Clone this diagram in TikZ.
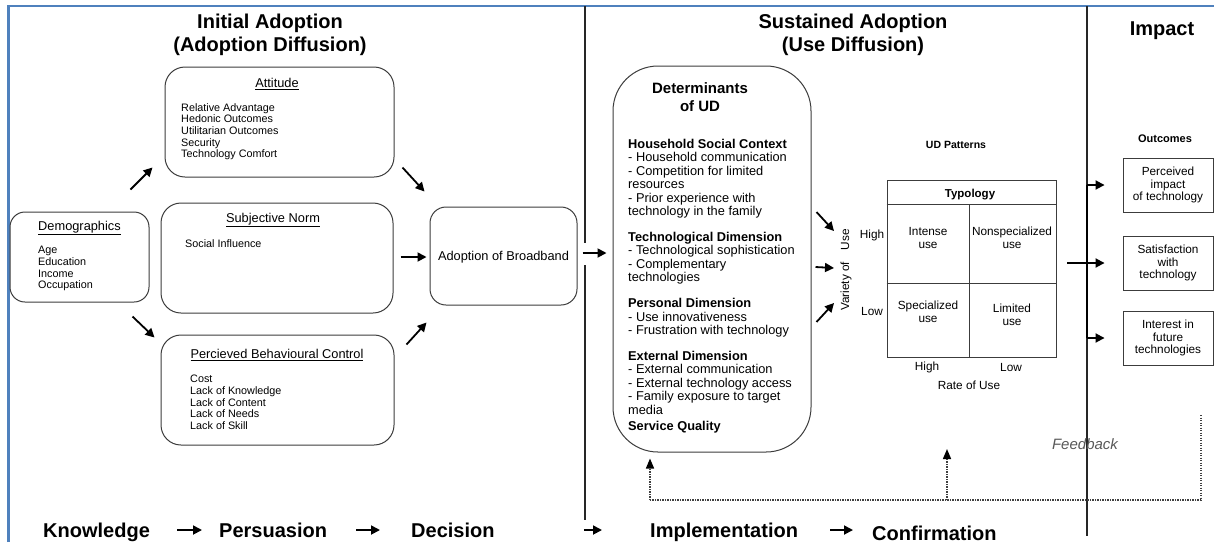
\documentclass[tikz,border=0pt]{standalone}
\usepackage{fontspec}
\setmainfont{Liberation Sans}
\usetikzlibrary{arrows.meta,calc}
\definecolor{frameblue}{RGB}{79,129,189}
\definecolor{inkgray}{RGB}{60,60,60}
\begin{document}
\begin{tikzpicture}[x=1pt,y=-1pt,
  txt/.style={inner sep=0pt, text=black},
  itemtext/.style={txt, align=left, anchor=north west, font=\fontsize{10.8}{11.7}\selectfont},
  hdtext/.style={txt, anchor=base, font=\fontsize{12.8}{14}\selectfont},
  bigtitle/.style={txt, anchor=base, font=\bfseries\fontsize{20}{22}\selectfont},
  steptext/.style={txt, anchor=base west, font=\bfseries\fontsize{20}{22}\selectfont},
  celltext/.style={txt, align=center, font=\fontsize{11.8}{12.5}\selectfont},
  rbox/.style={draw=inkgray, line width=1pt, rounded corners=20pt, inner sep=0pt},
  sqbox/.style={draw=inkgray, line width=0.9pt, inner sep=0pt},
  arr/.style={line width=1.8pt, -{Triangle[length=9pt,width=9pt]}},
  dots/.style={line width=1.5pt, black!75, dash pattern=on 1.2pt off 1.3pt},
  dotarr/.style={dots, -{Triangle[length=10pt,width=8pt,color=black]}},
  divline/.style={line width=1.2pt, black!85},
  gridline/.style={line width=0.9pt, inkgray}
]
\useasboundingbox (0,0) rectangle (1214,542);
\fill[white] (0,0) rectangle (1214,542);

% page frame
\draw[frameblue, line width=2.5pt] (8.5,542) -- (8.5,6) -- (1214,6);

% phase dividers
\draw[divline] (585,6) -- (585,243);
\draw[divline] (585,265) -- (585,520);
\draw[divline] (1087,6) -- (1087,536);

% phase titles
\node[bigtitle] (t1a) at (270,28) {Initial Adoption};
\node[bigtitle] (t1b) at (270,51) {(Adoption Diffusion)};
\node[bigtitle] (t2a) at (853,28) {Sustained Adoption};
\node[bigtitle] (t2b) at (853,51) {(Use Diffusion)};
\node[bigtitle] (t3) at (1162,35) {Impact};

% ---------- initial adoption ----------
\node[rbox, rounded corners=15pt, minimum width=139, minimum height=90] (dem) at (79.5,257) {};
\node[hdtext] (demh) at (79.5,230.6) {\underline{Demographics}};
\node[itemtext] (demi) at (38,246) {Age\\Education\\Income\\Occupation};

\node[rbox, minimum width=229, minimum height=110] (att) at (279.5,122) {};
\node[hdtext] (atth) at (277,87.6) {\underline{Attitude}};
\node[itemtext] (atti) at (181,103) {Relative Advantage\\Hedonic Outcomes\\Utilitarian Outcomes\\Security\\Technology Comfort};

\node[rbox, minimum width=232, minimum height=110] (sn) at (277,258) {};
\node[hdtext] (snh) at (273,222.6) {\underline{Subjective Norm}};
\node[itemtext] (sni) at (185,239) {Social Influence};

\node[rbox, minimum width=233, minimum height=110] (pbc) at (277.5,390) {};
\node[hdtext] (pbch) at (277,358.6) {\underline{Percieved Behavioural Control}};
\node[itemtext] (pbci) at (190,375) {Cost\\Lack of Knowledge\\Lack of Content\\Lack of Needs\\Lack of Skill};

\node[rbox, rounded corners=16pt, minimum width=147, minimum height=98] (adopt) at (503.5,256) {};
\node[hdtext] (adopth) at (503.5,260.6) {Adoption of Broadband};

\draw[arr] ($(dem.north east)+(-19,-22)$) -- ($(att.south west)+(-12,-10)$);
\draw[arr] ($(dem.south east)+(-17,14)$) -- ($(pbc.north west)+(-6,3)$);
\draw[arr] ($(att.south east)+(8,-10)$) -- ($(adopt.north west)+(-5,-15)$);
\draw[arr] ($(sn.east)+(7,-1)$) -- ($(adopt.west)+(-3,1)$);
\draw[arr] ($(pbc.north east)+(12,10)$) -- ($(adopt.south west)+(-3,17)$);

% ---------- sustained adoption ----------
\node[rbox, rounded corners=45pt, minimum width=198, minimum height=386] (det) at (712,259) {};
\node[txt, anchor=base, font=\bfseries\fontsize{15}{17}\selectfont] (deth1) at (700,93.4) {Determinants};
\node[txt, anchor=base, font=\bfseries\fontsize{15}{17}\selectfont] (deth2) at (700,111.4) {of UD};
\node[txt, align=left, anchor=north west, font=\fontsize{12.8}{13.4}\selectfont] (deti) at (628,139) {%
\textbf{Household Social Context}\\
- Household communication\\
- Competition for limited\\
resources\\
- Prior experience with\\
technology in the family\\[12.6pt]
\textbf{Technological Dimension}\\
- Technological sophistication\\
- Complementary\\
technologies\\[12.6pt]
\textbf{Personal Dimension}\\
- Use innovativeness\\
- Frustration with technology\\[12.6pt]
\textbf{External Dimension}\\
- External communication\\
- External technology access\\
- Family exposure to target\\
media\\[2.6pt]
\textbf{Service Quality}};

\draw[arr] ($(adopt.east)+(5,-3)$) -- ($(det.west)+(-6,-6)$);

% use-diffusion patterns
\node[txt, anchor=base, font=\bfseries\fontsize{10.5}{12}\selectfont] (udp) at (956,148) {UD Patterns};
\node[sqbox, minimum width=169, minimum height=177] (grid) at (971.5,268.5) {};
\draw[gridline] ($(grid.north west)+(0,25)$) -- ($(grid.north east)+(0,25)$);
\draw[gridline] ($(grid.north)+(-2.5,25)$) -- ($(grid.south)+(-2.5,0)$);
\draw[gridline] ($(grid.west)+(0,14.5)$) -- ($(grid.east)+(0,14.5)$);
\node[txt, anchor=base, font=\bfseries\fontsize{11.5}{13}\selectfont] (typ) at (970,197) {Typology};
\node[celltext] (c11) at (928,238) {Intense\\use};
\node[celltext] (c12) at (1012,238) {Nonspecialized\\use};
\node[celltext] (c21) at (928,312) {Specialized\\use};
\node[celltext] (c22) at (1012,315) {Limited\\use};
\node[celltext] (vhigh) at (872,235) {High};
\node[celltext] (vlow) at (872,311) {Low};
\node[celltext, rotate=90] (var) at (846,270) {Variety of\quad Use};
\node[celltext] (rhigh) at (927,367) {High};
\node[celltext] (rlow) at (1011,367) {Low};
\node[celltext] (rate) at (969,385) {Rate of Use};

\draw[arr] ($(det.east)+(5,-47)$) -- ($(var.center)+(-12,-39)$);
\draw[arr] ($(det.east)+(4,8)$) -- ($(var.center)+(-12,-2)$);
\draw[arr] ($(det.east)+(5,63)$) -- ($(var.center)+(-12,33)$);

% ---------- impact ----------
\node[txt, anchor=base, font=\bfseries\fontsize{11}{12}\selectfont] (outh) at (1165,142) {Outcomes};
\node[sqbox, minimum width=90, minimum height=54, celltext] (o1) at (1168,185) {Perceived\\impact\\of technology};
\node[sqbox, minimum width=90, minimum height=54, celltext] (o2) at (1168,263) {Satisfaction\\with\\technology};
\node[sqbox, minimum width=90, minimum height=54, celltext] (o3) at (1168,338) {Interest in\\future\\technologies};

\coordinate (brtop) at (1087,185);
\coordinate (brmid) at (1087,263);
\coordinate (brbot) at (1087,338);
\draw[line width=1.8pt] (brtop) -- (brbot);
\draw[line width=1.8pt] ($(grid.east)+(11,-5.5)$) -- (brmid);
\draw[arr] (brtop) -- ($(o1.west)+(-18,0)$);
\draw[arr] (brmid) -- ($(o2.west)+(-18,0)$);
\draw[arr] (brbot) -- ($(o3.west)+(-18,0)$);

% feedback loop
\node[txt, anchor=center, font=\itshape\fontsize{15}{17}\selectfont, text=black!65] (fb) at (1085,444) {Feedback};
\coordinate (fbtop) at (1201,415);
\coordinate (fbright) at (1201,500);
\coordinate (fbmid) at (947,500);
\coordinate (fbleft) at (650,500);
\coordinate (fbtip) at (947,449);
\draw[dots] (fbtop) -- (fbright) -- (fbleft);
\draw[dotarr] (fbleft) -- ($(det.south)+(-62,6)$);
\draw[dotarr] (fbmid) -- (fbtip);

% ---------- innovation-decision stages ----------
\node[steptext] (know) at (43,537) {Knowledge};
\node[steptext] (pers) at (219,537) {Persuasion};
\node[steptext] (deci) at (411,537) {Decision};
\node[steptext] (impl) at (650,537) {Implementation};
\node[steptext] (conf) at (872,540) {Confirmation};
\draw[arr] ($(know.base east)+(27,-7)$) -- ($(pers.base west)+(-17,-7)$);
\draw[arr] ($(pers.base east)+(29,-7)$) -- ($(deci.base west)+(-31,-7)$);
\draw[arr] ($(deci.base east)+(89,-7)$) -- ($(impl.base west)+(-48,-7)$);
\draw[arr] ($(impl.base east)+(32,-7)$) -- ($(conf.base west)+(-19,-10)$);
\end{tikzpicture}
\end{document}
